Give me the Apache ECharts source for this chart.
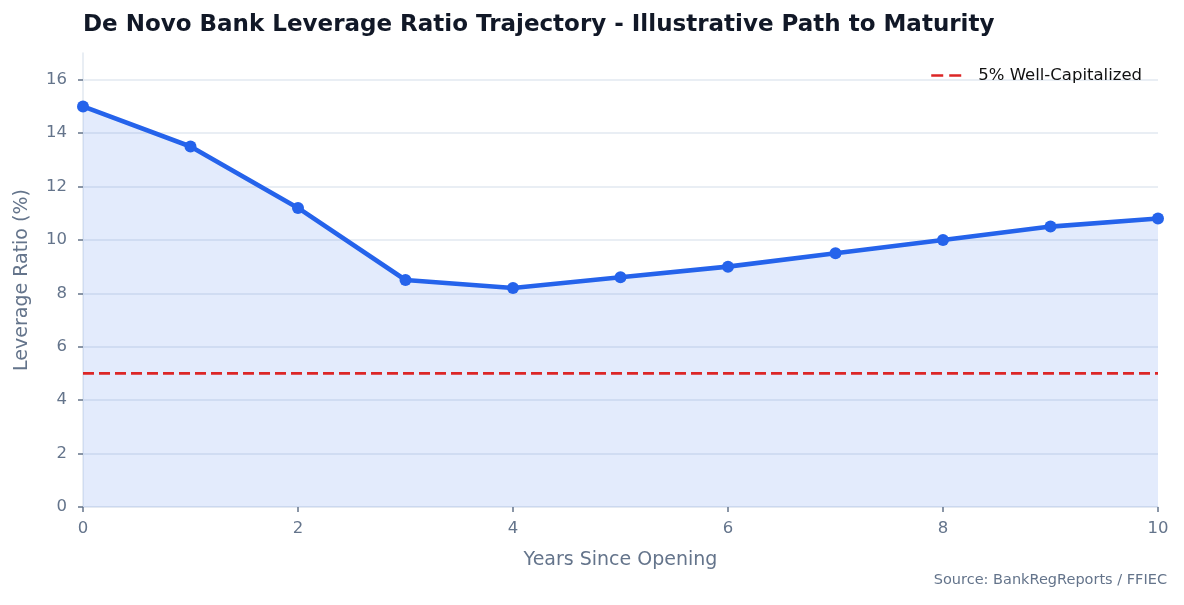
<!DOCTYPE html>
<html>
<head>
<meta charset="utf-8">
<script src="https://cdn.jsdelivr.net/npm/echarts@6/dist/echarts.min.js"></script>
<style>
  html, body { margin: 0; padding: 0; background: #fff; }
  #main { width: 1184px; height: 605px; }
</style>
</head>
<body>
<div id="main"></div>
<script>
var years = [0, 1, 2, 3, 4, 5, 6, 7, 8, 9, 10];
var leverage = [15.0, 13.5, 11.2, 8.5, 8.2, 8.6, 9.0, 9.5, 10.0, 10.5, 10.8];
var wellCapitalized = 5;
var yTicks = [0, 2, 4, 6, 8, 10, 12, 14, 16];

var chart = echarts.init(document.getElementById('main'));
var font = '"DejaVu Sans", sans-serif';
var axisGrey = '#64748b';
var lightLine = '#e2e8f0';

var option = {
  animation: false,
  textStyle: { fontFamily: font },
  title: {
    text: 'De Novo Bank Leverage Ratio Trajectory - Illustrative Path to Maturity',
    left: 78, top: 9,
    textStyle: { fontFamily: font, fontSize: 23, fontWeight: 'bold', color: '#111827' }
  },
  graphic: [{
    type: 'text', right: 17, top: 573,
    style: { text: 'Source: BankRegReports / FFIEC', font: '14.5px "DejaVu Sans", sans-serif', fill: axisGrey }
  }],
  legend: {
    right: 37, top: 62,
    itemWidth: 30, itemHeight: 12,
    textStyle: { fontFamily: font, fontSize: 16.5, color: '#111', padding: [0, 0, 0, 12] },
    data: [{ name: '5% Well-Capitalized', icon: 'path://M0,5 L12,5 L12,7.6 L0,7.6 Z M18,5 L30,5 L30,7.6 L18,7.6 Z', itemStyle: { color: '#dc2626' } }]
  },
  grid: { left: 83, right: 26, top: 53, bottom: 98 },
  xAxis: {
    type: 'value', min: 0, max: 10, interval: 2,
    name: 'Years Since Opening', nameLocation: 'middle', nameGap: 44,
    nameTextStyle: { fontFamily: font, fontSize: 19, color: axisGrey },
    axisLine: { show: true, lineStyle: { color: lightLine, width: 1.5 } },
    axisTick: { show: true, length: 5, lineStyle: { color: axisGrey, width: 1.5 } },
    axisLabel: { fontFamily: font, fontSize: 16.5, color: axisGrey, margin: 13 },
    splitLine: { show: false }
  },
  yAxis: {
    type: 'value', min: 0, max: 17, interval: 2,
    name: 'Leverage Ratio (%)', nameLocation: 'middle', nameGap: 51,
    nameTextStyle: { fontFamily: font, fontSize: 19, color: axisGrey },
    axisLine: { show: true, lineStyle: { color: lightLine, width: 1.5 } },
    axisTick: { show: true, length: 5, customValues: yTicks, lineStyle: { color: axisGrey, width: 1.5 } },
    axisLabel: { fontFamily: font, fontSize: 16.5, color: axisGrey, margin: 16, customValues: yTicks },
    splitLine: { show: true, lineStyle: { color: lightLine, width: 1.5 } }
  },
  series: [{
    name: 'Leverage Ratio',
    type: 'line',
    data: years.map(function (y, i) { return [y, leverage[i]]; }),
    symbol: 'circle', symbolSize: 12,
    lineStyle: { color: '#2563eb', width: 4.6 },
    itemStyle: { color: '#2563eb' },
    areaStyle: { color: '#2563eb', opacity: 0.13 },
    z: 3
  }, {
    name: '5% Well-Capitalized',
    type: 'line',
    data: years.map(function (y) { return [y, wellCapitalized]; }),
    symbol: 'none',
    lineStyle: { color: '#dc2626', width: 2.8, type: [11, 5] },
    itemStyle: { color: '#dc2626' },
    z: 4
  }]
};

chart.setOption(option);
</script>
</body>
</html>
